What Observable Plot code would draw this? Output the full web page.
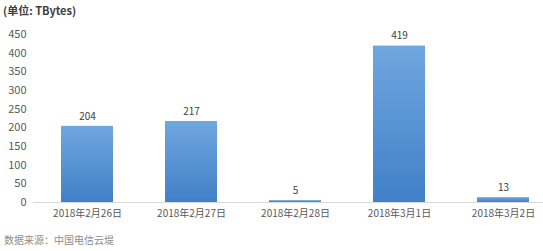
<!DOCTYPE html>
<html>
<head>
<meta charset="utf-8">
<script src="https://cdn.jsdelivr.net/npm/d3@7"></script>
<script src="https://cdn.jsdelivr.net/npm/@observablehq/plot@0.6"></script>
<style>
  body { margin: 0; background: #fff; width: 543px; height: 251px; overflow: hidden; font-family: "Noto Sans CJK SC", "Open Sans", sans-serif; }
  #title { height: 20px; line-height: 20px; font-size: 11px; font-weight: bold; color: #404040; padding-left: 3px; }
  #caption { height: 23px; line-height: 23px; font-size: 10px; color: #8c8c8c; padding-left: 4px; }
  svg { display: block; }
</style>
</head>
<body>
<div id="title">(单位: TBytes)</div>
<div id="chart"></div>
<div id="caption">数据来源：中国电信云堤</div>
<script>
const dates = ["2018年2月26日", "2018年2月27日", "2018年2月28日", "2018年3月1日", "2018年3月2日"];
const traffic = [204, 217, 5, 419, 13];
const yTicks = [0, 50, 100, 150, 200, 250, 300, 350, 400, 450];

const data = dates.map((d, i) => ({date: d, value: traffic[i]}));

const chart = Plot.plot({
  width: 543,
  height: 208,
  marginTop: 14,
  marginBottom: 26,
  marginLeft: 33,
  marginRight: 0,
  style: {fontFamily: "'Noto Sans CJK SC', 'Open Sans', sans-serif", fontSize: "10px", color: "#595959", background: "#fff"},
  x: {domain: dates, range: [34, 556], paddingInner: 0.5, paddingOuter: 0.25, label: null},
  y: {domain: [0, 450], label: null},
  marks: [
    Plot.gridY(yTicks, {stroke: "#d9d9d9", strokeOpacity: 1, x1: 33, x2: 543}),
    Plot.barY(data, {x: "date", y: "value", fill: "url(#barGrad)"}),
    Plot.text(data, {x: "date", y: "value", text: d => String(d.value), dy: -10, fill: "#404040", fontSize: 10}),
    Plot.axisY(yTicks, {tickSize: 0, tickPadding: 7, fontSize: 11, fill: "#595959", label: null}),
    Plot.axisX({tickSize: 0, tickPadding: 7, fontSize: 10, fill: "#595959", label: null}),
    Plot.ruleY([0], {stroke: "#d9d9d9"})
  ]
});

const ns = "http://www.w3.org/2000/svg";
const defs = document.createElementNS(ns, "defs");
const grad = document.createElementNS(ns, "linearGradient");
grad.setAttribute("id", "barGrad");
grad.setAttribute("x1", "0"); grad.setAttribute("y1", "0");
grad.setAttribute("x2", "0"); grad.setAttribute("y2", "1");
[["0%", "#6fa7df"], ["100%", "#4180c8"]].forEach(([o, c]) => {
  const s = document.createElementNS(ns, "stop");
  s.setAttribute("offset", o); s.setAttribute("stop-color", c);
  grad.appendChild(s);
});
defs.appendChild(grad);
chart.insertBefore(defs, chart.firstChild);
document.getElementById("chart").appendChild(chart);
</script>
</body>
</html>
